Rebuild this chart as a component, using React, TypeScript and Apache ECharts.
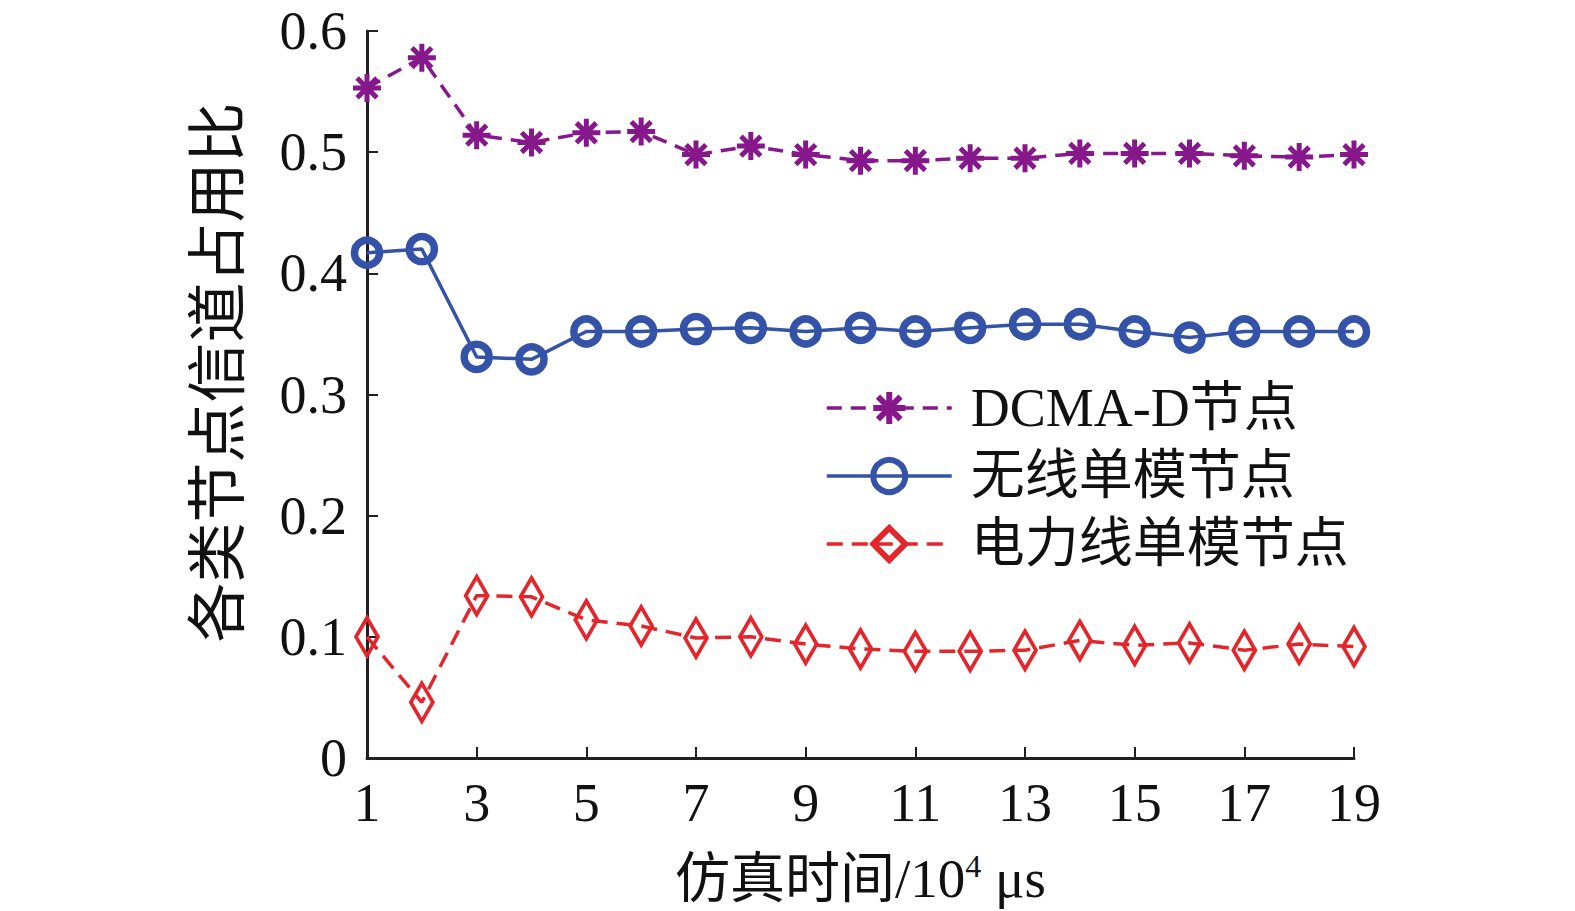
import React, { useEffect, useRef } from "react";
import * as echarts from "echarts";

const categories = ["1","2","3","4","5","6","7","8","9","10","11","12","13","14","15","16","17","18","19"];
const dcmaD = [0.553,0.578,0.514,0.508,0.516,0.517,0.498,0.505,0.498,0.493,0.493,0.495,0.495,0.499,0.499,0.499,0.497,0.496,0.498];
const wireless = [0.417,0.420,0.331,0.329,0.352,0.352,0.354,0.355,0.352,0.355,0.352,0.355,0.358,0.358,0.352,0.347,0.352,0.352,0.352];
const plc = [0.100,0.046,0.134,0.133,0.114,0.109,0.099,0.100,0.094,0.090,0.088,0.088,0.089,0.097,0.093,0.095,0.089,0.094,0.092];
const seriesNames = ["DCMA-D节点", "无线单模节点", "电力线单模节点"];

const FONT = "'Liberation Serif', 'Noto Sans CJK SC', serif";
const AXIS = "#231f20";
const PURPLE = "#86188c";
const BLUE = "#3453a8";
const RED = "#e3262b";
const STAR = "path://M0,-10L0,10M-10,0L10,0M-7.07,-7.07L7.07,7.07M-7.07,7.07L7.07,-7.07";
const DIAMOND = "path://M0,-20L12,0L0,20L-12,0Z";

export default function App() {
  const ref = useRef<HTMLDivElement>(null);
  useEffect(() => {
    if (!ref.current) return;
    const chart = echarts.init(ref.current, null, { renderer: "svg" });
    chart.setOption({
      animation: false,
      backgroundColor: "#ffffff",
      grid: { left: 367, right: 221, top: 31, bottom: 153, containLabel: false, outerBoundsMode: "none" },
      legend: {
        orient: "vertical",
        left: 820,
        top: 376,
        itemWidth: 125,
        itemHeight: 40,
        itemGap: 14,
        itemStyle: { borderWidth: 6 },
        lineStyle: { width: 3.5 },
        textStyle: { fontFamily: FONT, fontSize: 54, color: "#111", padding: [0, 0, 0, 14], lineHeight: 54 },
        data: seriesNames,
      },
      xAxis: {
        type: "category",
        data: categories,
        boundaryGap: false,
        name: "仿真时间/10{sup|4} μs",
        nameLocation: "middle",
        nameGap: 92,
        nameTextStyle: {
          fontFamily: FONT, fontSize: 55, color: "#111",
          rich: { sup: { fontFamily: FONT, fontSize: 32, color: "#111", verticalAlign: "top", padding: [0, 0, 24, 0] } },
        },
        axisLine: { show: true, lineStyle: { color: AXIS, width: 3 } },
        axisTick: { show: true, inside: true, length: 11, interval: 1, lineStyle: { color: AXIS, width: 2 } },
        axisLabel: { interval: 1, fontFamily: FONT, fontSize: 54, color: "#111", margin: 18 },
        splitLine: { show: false },
      },
      yAxis: {
        type: "value",
        min: 0,
        max: 0.6,
        interval: 0.1,
        name: "各类节点信道占用比",
        nameLocation: "middle",
        nameGap: 118,
        nameTextStyle: { fontFamily: FONT, fontSize: 60, color: "#111", padding: [0, 0, 0, 44] },
        axisLine: { show: true, lineStyle: { color: AXIS, width: 3 } },
        axisTick: { show: true, inside: true, length: 11, lineStyle: { color: AXIS, width: 2 } },
        axisLabel: {
          fontFamily: FONT, fontSize: 54, color: "#111", margin: 20,
          formatter: (v: number) => (v === 0 ? "0" : v.toFixed(1)),
        },
        splitLine: { show: false },
      },
      series: [
        {
          name: seriesNames[0],
          type: "line",
          data: dcmaD,
          symbol: STAR,
          symbolSize: 28,
          showAllSymbol: true,
          lineStyle: { color: PURPLE, width: 3.5, type: [15, 9] },
          itemStyle: { color: "rgba(0,0,0,0)", borderColor: PURPLE, borderWidth: 5 },
          z: 3,
        },
        {
          name: seriesNames[1],
          type: "line",
          data: wireless,
          symbol: "circle",
          symbolSize: 25,
          showAllSymbol: true,
          lineStyle: { color: BLUE, width: 3.5 },
          itemStyle: { color: "rgba(0,0,0,0)", borderColor: BLUE, borderWidth: 7.5 },
          z: 3,
        },
        {
          name: seriesNames[2],
          type: "line",
          data: plc,
          symbol: DIAMOND,
          symbolSize: [22, 38],
          showAllSymbol: true,
          lineStyle: { color: RED, width: 3.5, type: [16, 9] },
          itemStyle: { color: "rgba(0,0,0,0)", borderColor: RED, borderWidth: 4 },
          z: 3,
        },
      ],
    });
    return () => chart.dispose();
  }, []);
  return <div ref={ref} style={{ position: "absolute", left: 0, top: 0, width: 1575, height: 911 }} />;
}
